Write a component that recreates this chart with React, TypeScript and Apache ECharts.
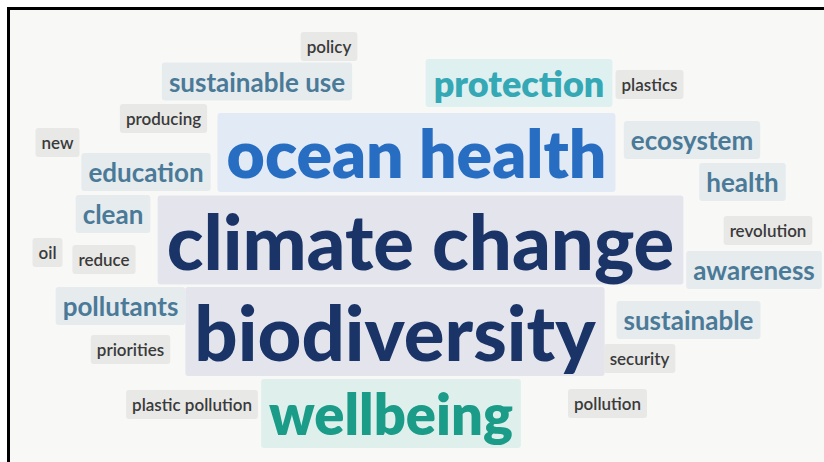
import React, { useEffect, useRef } from "react";
import * as echarts from "echarts";

// Word cloud terms, their weights (rendered as font size) and theme groups
const words = [
  "policy", "sustainable use", "protection", "plastics", "producing", "ocean health",
  "new", "ecosystem", "education", "health", "clean", "climate change",
  "revolution", "oil", "reduce", "awareness", "pollutants", "biodiversity",
  "sustainable", "priorities", "security", "plastic pollution", "wellbeing", "pollution",
];
const weights = [
  17, 26, 36, 17, 17, 66,
  17, 26, 26, 26, 26, 76,
  17, 17, 17, 26, 26, 76,
  26, 17, 17, 17, 56, 17,
];
const groups = [
  "minor", "theme", "protect", "minor", "minor", "ocean",
  "minor", "theme", "theme", "theme", "theme", "core",
  "minor", "minor", "minor", "theme", "theme", "core",
  "theme", "minor", "minor", "minor", "well", "minor",
];
// Cloud layout (centre of each word)
const layoutX = [
  329, 257, 519, 649.5, 163.5, 416.5,
  57.5, 692, 146, 742.5, 113, 420.5,
  768, 47.5, 104, 754, 120.5, 395,
  688.5, 130.5, 639.5, 192, 391, 607.5,
];
const layoutY = [
  46.5, 81.5, 83, 84.5, 118.5, 152.5,
  142.5, 140, 172, 182, 214, 240,
  230.5, 252.5, 259.5, 270, 306, 331.5,
  320, 349.5, 358.5, 404.5, 413.5, 403.5,
];

const groupStyle: Record<string, any> = {
  minor: { color: "#3a3a3a", backgroundColor: "#e8e8e7", fontWeight: 600, boxH: 29, padX: 6 },
  theme: { color: "#4a7a97", backgroundColor: "#e6ebee", fontWeight: 700, boxH: 38, padX: 7 },
  protect: { color: "#35a8b5", backgroundColor: "#dff0f1", fontWeight: 800, boxH: 48, padX: 8 },
  well: { color: "#1b9c89", backgroundColor: "#dff0ec", fontWeight: 800, boxH: 69, padX: 8 },
  ocean: { color: "#276ec3", backgroundColor: "#e2eaf5", fontWeight: 800, boxH: 79, padX: 9 },
  core: { color: "#1b3468", backgroundColor: "#e4e5ec", fontWeight: 900, boxH: 89, padX: 9 },
};

export default function App() {
  const ref = useRef<HTMLDivElement>(null);
  useEffect(() => {
    if (!ref.current) return;
    const chart = echarts.init(ref.current, undefined, { renderer: "svg" });
    const data = words.map((w, i) => {
      const s = groupStyle[groups[i]];
      const lh = s.boxH - 8;
      return {
        name: w,
        value: [layoutX[i], layoutY[i]],
        label: {
          show: true,
          position: "inside",
          formatter: w,
          fontFamily: "Lato",
          fontSize: weights[i],
          fontWeight: s.fontWeight,
          color: s.color,
          opacity: 1,
          backgroundColor: s.backgroundColor,
          borderRadius: 3,
          lineHeight: lh,
          padding: [4, s.padX, 4, s.padX],
        },
      };
    });
    chart.setOption({
      animation: false,
      backgroundColor: "transparent",
      grid: { left: 0, right: 0, top: 0, bottom: 0 },
      xAxis: { type: "value", min: 10, max: 824, show: false },
      yAxis: { type: "value", min: 10, max: 462, inverse: true, show: false },
      series: [
        {
          type: "scatter",
          symbolSize: 1,
          itemStyle: { color: "rgba(0,0,0,0)" },
          emphasis: { disabled: true },
          data,
          z: 2,
        },
      ],
    });
    return () => chart.dispose();
  }, []);

  return (
    <div style={{ position: "fixed", left: 0, top: 0, width: 824, height: 462, background: "#ffffff", overflow: "hidden" }}>
      <div
        style={{
          position: "absolute",
          left: 7,
          top: 7,
          right: 0,
          bottom: 0,
          borderTop: "3px solid #000",
          borderLeft: "3px solid #000",
          background: "#f8f8f7",
        }}
      >
        <div ref={ref} style={{ position: "absolute", left: 0, top: 0, width: 814, height: 452 }} />
      </div>
    </div>
  );
}
